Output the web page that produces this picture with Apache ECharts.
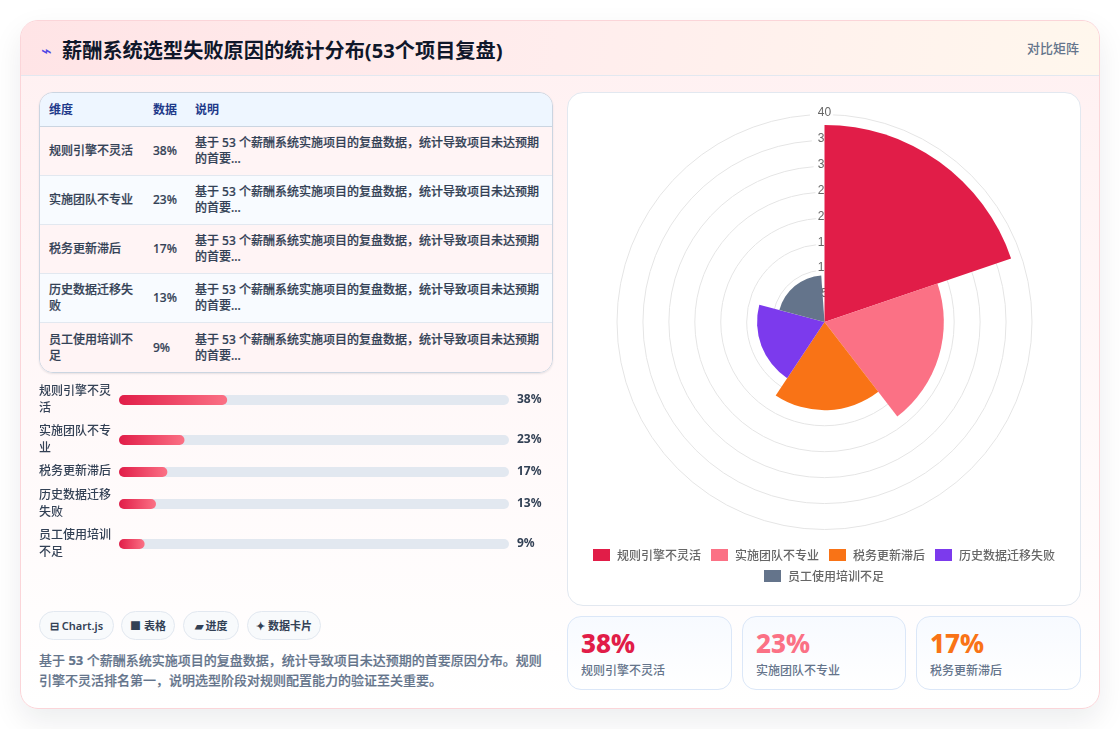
<!DOCTYPE html>
<html lang="zh-CN">
<head>
<meta charset="utf-8">
<title>薪酬系统选型失败原因的统计分布</title>
<script src="https://cdn.jsdelivr.net/npm/echarts@6/dist/echarts.min.js"></script>
<style>
  * { box-sizing: border-box; margin: 0; padding: 0; }
  html, body { width: 1120px; height: 729px; background: #fff; overflow: hidden;
    font-family: "Noto Sans", "Noto Sans CJK SC", sans-serif; }
  .abs { position: absolute; }
  #card { left: 20px; top: 20px; width: 1080px; height: 689px; border: 1px solid #fbd5d9; border-radius: 18px;
    background: linear-gradient(180deg, #fff0f1 0%, #fff 100%); box-shadow: 0 12px 30px rgba(15,23,42,.08); overflow: hidden; }
  #head { left: 0; top: 0; right: 0; height: 55px; border-bottom: 1px solid #e2e8f0;
    background: linear-gradient(100deg, #ffe4e6 0%, #ffeded 50%, #fff7ed 100%); }
  #bolt { left: 41px; top: 40px; font-size: 18px; line-height: 20px; color: #4f46e5; }
  #title { left: 62px; top: 35px; font-size: 20.2px; line-height: 30px; font-weight: 700; color: #0f172a; white-space: nowrap; }
  #tag { left: 1027px; top: 39px; font-size: 13px; line-height: 18px; font-weight: 500; color: #64748b; }
  #tableWrap { left: 39px; top: 92px; width: 514px; height: 281px; border: 1px solid #cbd5e1; border-radius: 14px; overflow: hidden;
    box-shadow: 0 1px 2px rgba(15,23,42,.1); }
  table { border-collapse: collapse; width: 100%; table-layout: fixed; font-size: 12px; line-height: 16px; color: #334155; font-weight: 500;
    -webkit-text-stroke: .2px #334155; }
  th { height: 33px; padding: 1px 0 0 9px; background: #eef6ff; color: #1e3a8a; text-align: left; font-weight: 700; border-bottom: 1px solid #cbd5e1;
    -webkit-text-stroke: 0; }
  td { padding: 0 9px; height: 49.2px; border-bottom: 1px solid #e2e8f0; }
  tr:last-child td { border-bottom: 0; }
  tbody tr:nth-child(odd) { background: #fff4f5; }
  tbody tr:nth-child(even) { background: #f8fbff; }
  #progress { left: 39px; top: 381px; width: 514px; height: 190px; }
  .chip { top: 611px; height: 29px; border: 1px solid #e2e8f0; border-radius: 15px; background: #f8fafc; color: #334155;
    font-size: 11px; line-height: 27px; font-weight: 600; text-align: center; white-space: nowrap; }
  #note { left: 39px; top: 650px; width: 514px; font-size: 13px; line-height: 20px; font-weight: 500; color: #64748b;
    -webkit-text-stroke: .2px #64748b; }
  #note b { font-weight: 700; }
  #polarBox { left: 567px; top: 92px; width: 514px; height: 514px; border: 1px solid #e2e8f0; border-radius: 16px; background: #fff; }
  #polar { left: 567px; top: 92px; width: 514px; height: 514px; }
  .stat { top: 616px; height: 74px; border: 1px solid #dbe7f8; border-radius: 14px; background: linear-gradient(180deg, #f7faff, #fff); }
  .stat b { position: absolute; left: 13px; top: 9px; font-size: 26px; line-height: 34px; font-weight: 800; }
  .stat span { position: absolute; left: 13px; top: 45px; font-size: 12px; line-height: 17px; font-weight: 500; color: #64748b; }
</style>
</head>
<body>
<div id="card" class="abs"><div id="head" class="abs"></div></div>
<div id="bolt" class="abs">⌁</div>
<div id="title" class="abs"></div>
<div id="tag" class="abs"></div>
<div id="tableWrap" class="abs"><table><colgroup><col style="width:104px"><col style="width:42px"><col></colgroup><thead><tr id="thead"></tr></thead><tbody id="tbody"></tbody></table></div>
<div id="progress" class="abs"></div>
<div id="chips"></div>
<div id="note" class="abs"></div>
<div id="polarBox" class="abs"></div>
<div id="polar" class="abs"></div>
<div id="stats"></div>

<script>
// Survey results: share of failed payroll-system selections per cause
const titleText = '薪酬系统选型失败原因的统计分布(53个项目复盘)';
const tagText = '对比矩阵';
const causes = ['规则引擎不灵活', '实施团队不专业', '税务更新滞后', '历史数据迁移失败', '员工使用培训不足'];
const shares = [38, 23, 17, 13, 9];
const causeColors = ['#e11d48', '#fb7185', '#f97316', '#7c3aed', '#64748b'];
const tableHeads = ['维度', '数据', '说明'];
const rowNote = '基于 53 个薪酬系统实施项目的复盘数据，统计导致项目未达预期的首要...';
const chipTexts = ['⊟ Chart.js', '■ 表格', '▰ 进度', '✦ 数据卡片'];
const noteHtml = '基于 <b>53</b> 个薪酬系统实施项目的复盘数据，统计导致项目未达预期的首要原因分布。规则引擎不灵活排名第一，说明选型阶段对规则配置能力的验证至关重要。';
const radiusTicks = { min: 0, max: 40, step: 5 };

// Page text and table
document.getElementById('title').textContent = titleText;
document.getElementById('tag').textContent = tagText;
document.getElementById('note').innerHTML = noteHtml;
document.getElementById('thead').innerHTML = tableHeads.map(h => `<th>${h}</th>`).join('');
document.getElementById('tbody').innerHTML = causes.map((c, i) =>
  `<tr><td>${c}</td><td>${shares[i]}%</td><td>${rowNote}</td></tr>`).join('');

const chipBoxes = [[39, 75], [121, 54], [183, 56], [247, 74]];
document.getElementById('chips').innerHTML = chipTexts.map((t, i) =>
  `<div class="abs chip" style="left:${chipBoxes[i][0]}px;width:${chipBoxes[i][1]}px">${t}</div>`).join('');

const statBoxes = [[567, 165], [742, 164], [916, 165]];
document.getElementById('stats').innerHTML = statBoxes.map((b, i) =>
  `<div class="abs stat" style="left:${b[0]}px;width:${b[1]}px"><b style="color:${causeColors[i]}">${shares[i]}%</b><span>${causes[i]}</span></div>`).join('');

// Progress rows: one small grid per row because wrapped labels make the rows uneven
const rowCenters = [19, 59, 91, 123, 163];
const progress = echarts.init(document.getElementById('progress'), null, { renderer: 'canvas' });
const pctFont = '"Noto Sans", "Noto Sans CJK SC", sans-serif';
progress.setOption({
  animation: false,
  grid: rowCenters.map(y => ({ left: 80, width: 390, top: y - 5, height: 10, outerBoundsMode: 'none', containLabel: false })),
  xAxis: rowCenters.map((_, i) => ({ gridIndex: i, type: 'value', min: 0, max: 137, show: false })),
  yAxis: rowCenters.map((_, i) => ({
    gridIndex: i, type: 'category', data: [causes[i]],
    axisLine: { show: false }, axisTick: { show: false },
    axisLabel: {
      margin: 80, align: 'left', width: 74, overflow: 'break', lineHeight: 17,
      fontSize: 12, fontWeight: 500, color: '#334155', fontFamily: pctFont
    }
  })),
  series: shares.map((v, i) => ({
    type: 'bar', xAxisIndex: i, yAxisIndex: i, data: [v], barWidth: 10,
    showBackground: true,
    backgroundStyle: { color: '#e2e8f0', borderRadius: 5 },
    itemStyle: {
      borderRadius: 5,
      color: new echarts.graphic.LinearGradient(0, 0, 1, 0, [
        { offset: 0, color: '#e11d48' }, { offset: 1, color: '#fb7185' }
      ])
    },
    label: {
      show: true, position: [398, 5], verticalAlign: 'middle', align: 'left',
      formatter: '{c}%', fontSize: 12, fontWeight: 700, color: '#334155', fontFamily: pctFont
    }
  }))
});

// Polar area chart: one stacked series per cause so each gets a legend entry
const legendFont = { fontSize: 12, fontWeight: 500, color: '#666', padding: [0, 0, 0, 2], fontFamily: '"Noto Sans CJK SC", sans-serif' };
const legendBase = { icon: 'rect', itemWidth: 17, itemHeight: 12, itemGap: 10, textStyle: legendFont, selectedMode: false };
const polar = echarts.init(document.getElementById('polar'), null, { renderer: 'canvas' });
polar.setOption({
  animation: false,
  polar: { center: [257.5, 230], radius: 207.5 },
  angleAxis: {
    type: 'category', data: causes, startAngle: 90, endAngle: -266, clockwise: true,
    axisLine: { show: false }, axisTick: { show: false }, axisLabel: { show: false }, splitLine: { show: false }
  },
  radiusAxis: {
    min: radiusTicks.min, max: radiusTicks.max, interval: radiusTicks.step,
    axisLine: { show: false }, axisTick: { show: false },
    splitLine: { show: true, lineStyle: { color: '#e5e5e5', width: 1 } },
    axisLabel: {
      showMinLabel: false, margin: 0, align: 'center', verticalAlign: 'middle',
      formatter: '{t|{value}}',
      rich: { t: { fontSize: 12, color: '#666', fontFamily: '"Liberation Sans", sans-serif', padding: [0, 0, 4, 0] } },
      backgroundColor: 'rgba(255,255,255,.85)', padding: [0, 2]
    }
  },
  legend: [
    Object.assign({}, legendBase, { data: causes.slice(0, 4), left: 'center', top: 452 }),
    Object.assign({}, legendBase, { data: causes.slice(4), left: 'center', top: 473 })
  ],
  series: causes.map((name, i) => ({
    type: 'bar', coordinateSystem: 'polar', name, stack: 'causes',
    data: causes.map((_, j) => (j === i ? shares[i] : null)),
    barWidth: '100%',
    itemStyle: { color: causeColors[i] }
  }))
});
</script>
</body>
</html>
